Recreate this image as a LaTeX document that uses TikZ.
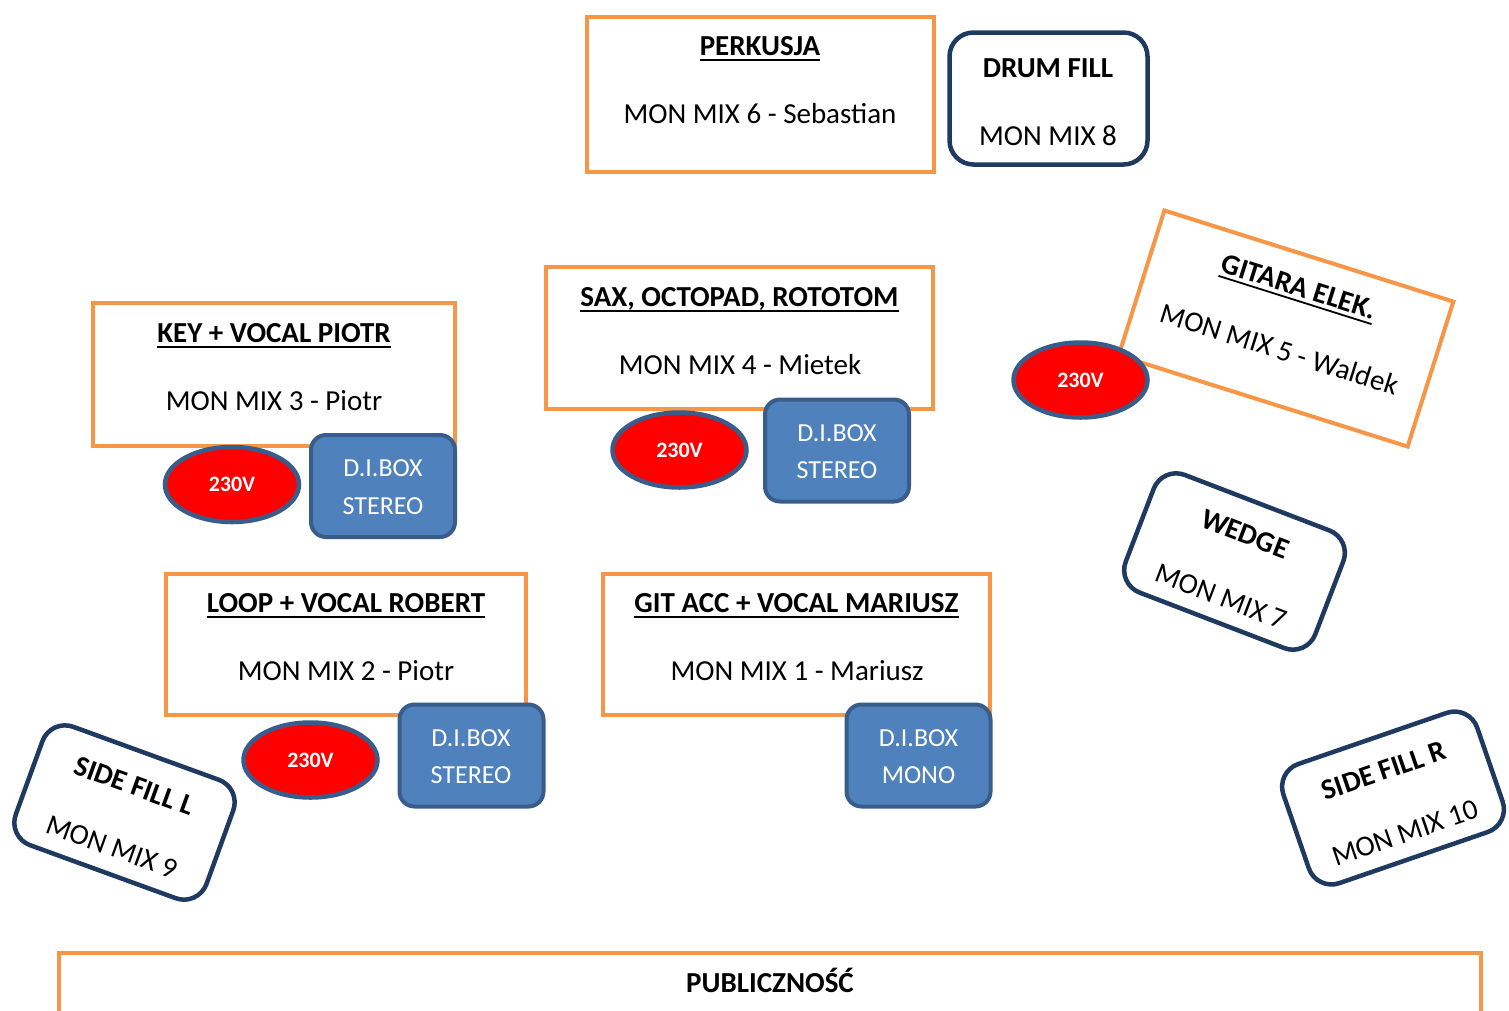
\documentclass[tikz,border=0pt]{standalone}
\usepackage{fontspec}
\setmainfont{Carlito}
\usetikzlibrary{shapes.geometric}
\definecolor{stageorange}{HTML}{F79646}
\definecolor{mondark}{HTML}{1F3A60}
\definecolor{diblue}{HTML}{4F81BD}
\definecolor{diborder}{HTML}{385D8A}
\newsavebox\myulbox
\newcommand\myul[1]{\sbox\myulbox{#1}\rlap{\rule[-5.5pt]{\wd\myulbox}{1.8pt}}\usebox\myulbox}
\begin{document}
\begin{tikzpicture}[x=1pt,y=-1pt,
  stagebox/.style={draw=stageorange, line width=4pt, fill=white, inner sep=0pt, outer sep=0pt},
  monbox/.style={draw=mondark, line width=4.5pt, fill=white, rounded corners=24pt, inner sep=0pt, outer sep=0pt},
  power/.style={ellipse, draw=diborder, line width=4.5pt, fill=red, text=white, font=\fontsize{22}{26}\selectfont\bfseries, minimum width=134pt, minimum height=75pt, inner sep=0pt},
  dibox/.style={draw=diborder, line width=4pt, fill=diblue, rounded corners=15pt, minimum width=144pt, minimum height=102pt, inner sep=0pt},
  ditext/.style={text=white, font=\fontsize{26}{30}\selectfont, anchor=base, inner sep=0pt},
  title/.style={font=\fontsize{29}{34}\selectfont\bfseries, anchor=base, inner sep=0pt},
  mix/.style={font=\fontsize{29}{34}\selectfont, anchor=base, inner sep=0pt},
]
\clip (0,0) rectangle (1509,1010);
\fill[white] (0,0) rectangle (1509,1010);

% PERKUSJA
\node[stagebox, minimum width=347pt, minimum height=155pt] (perk) at (760.5,94.5) {};
\node[title] (perkT) at (760,55.5) {\myul{PERKUSJA}};
\node[mix] (perkM) at (760,123.5) {MON MIX 6 - Sebastian};

% DRUM FILL
\node[monbox, minimum width=198pt, minimum height=132pt] (drum) at (1048.5,98.5) {};
\node[title] (drumT) at (1048,77.5) {DRUM FILL};
\node[mix] (drumM) at (1048,145.5) {MON MIX 8};

% KEY
\node[stagebox, minimum width=362pt, minimum height=143pt] (key) at (274,374.5) {};
\node[title] (keyT) at (274,342.5) {\myul{KEY + VOCAL PIOTR}};
\node[mix] (keyM) at (274,410.5) {MON MIX 3 - Piotr};

% SAX
\node[stagebox, minimum width=387pt, minimum height=142pt] (sax) at (739.5,338) {};
\node[title] (saxT) at (739.5,306.5) {\myul{SAX, OCTOPAD, ROTOTOM}};
\node[mix] (saxM) at (740,374.5) {MON MIX 4 - Mietek};

% LOOP
\node[stagebox, minimum width=360pt, minimum height=141pt] (loop) at (346,644.5) {};
\node[title] (loopT) at (346,612.5) {\myul{LOOP + VOCAL ROBERT}};
\node[mix] (loopM) at (346,680.5) {MON MIX 2 - Piotr};

% GIT ACC
\node[stagebox, minimum width=387pt, minimum height=141pt] (gitacc) at (796.5,644.5) {};
\node[title] (gitaccT) at (796.5,612.5) {\myul{GIT ACC + VOCAL MARIUSZ}};
\node[mix] (gitaccM) at (797,680.5) {MON MIX 1 - Mariusz};

% PUBLICZNOSC
\node[stagebox, minimum width=1422pt, minimum height=120pt] (pub) at (770,1013) {};
\node[title] (pubT) at (770,992.5) {PUBLICZNOŚĆ};

% GITARA ELEK (rotated)
\begin{scope}[shift={(1286,328.5)}, rotate=-17.5, transform shape]
  \node[stagebox, minimum width=303pt, minimum height=152pt] (gitara) at (0,0) {};
  \node[title] (gitaraT) at (0,-34.5) {\myul{GITARA ELEK.}};
  \node[mix] (gitaraM) at (0,31.5) {MON MIX 5 - Waldek};
\end{scope}

% WEDGE
\begin{scope}[shift={(1234.5,561.5)}, rotate=-21, transform shape]
  \node[monbox, minimum width=203pt, minimum height=126pt] (wedge) at (0,0) {};
  \node[title] (wedgeT) at (0,-20) {WEDGE};
  \node[mix] (wedgeM) at (0,47) {MON MIX 7};
\end{scope}

% SIDE FILL L
\begin{scope}[shift={(124.5,812.5)}, rotate=-20, transform shape]
  \node[monbox, minimum width=203pt, minimum height=126pt] (sfl) at (0,0) {};
  \node[title] (sflT) at (0,-19) {SIDE FILL L};
  \node[mix] (sflM) at (0,46) {MON MIX 9};
\end{scope}

% SIDE FILL R
\begin{scope}[shift={(1393,798)}, rotate=19, transform shape]
  \node[monbox, minimum width=205pt, minimum height=126pt] (sfr) at (0,0) {};
  \node[title] (sfrT) at (0,-19.5) {SIDE FILL R};
  \node[mix] (sfrM) at (0,46.5) {MON MIX 10};
\end{scope}

% power ellipses
\node[power] (p1) at (232,484.5) {230V};
\node[power] (p2) at (679.5,450) {230V};
\node[power] (p3) at (310.5,760) {230V};
\node[power] (p4) at (1080.5,380) {230V};

% DI boxes
\node[dibox] (di1) at (383,486) {};
\node[ditext] (di1a) at (383,476.4) {D.I.BOX};
\node[ditext] (di1b) at (383,514.4) {STEREO};

\node[dibox] (di2) at (837,450.5) {};
\node[ditext] (di2a) at (837,441.4) {D.I.BOX};
\node[ditext] (di2b) at (837,478.4) {STEREO};

\node[dibox] (di3) at (471.5,755.5) {};
\node[ditext] (di3a) at (471,746.4) {D.I.BOX};
\node[ditext] (di3b) at (471,783.4) {STEREO};

\node[dibox] (di4) at (918.5,755.5) {};
\node[ditext] (di4a) at (918.5,746.4) {D.I.BOX};
\node[ditext] (di4b) at (918.5,783.4) {MONO};
\end{tikzpicture}
\end{document}
